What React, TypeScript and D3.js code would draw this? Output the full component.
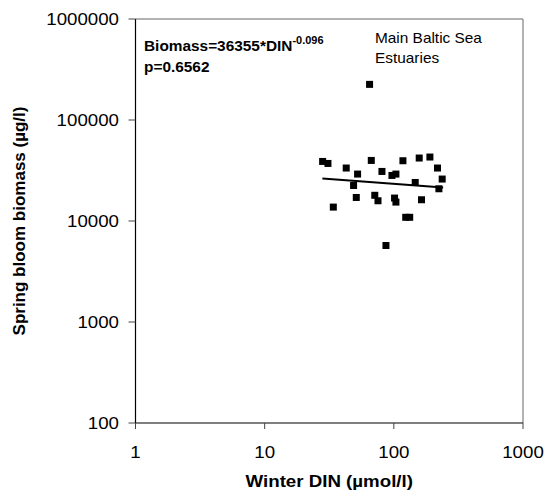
import React from 'react';
import * as d3 from 'd3';

// Winter DIN (µmol/l) vs spring bloom biomass (µg/l)
const dinValues = [
  28.1, 30.9, 42.8, 52.4, 66.9, 80.9, 48.8, 51.2, 71.2, 75.4, 34.0, 117.6, 157.2, 190.2,
  217.8, 236.8, 223.3, 146.4, 96.7, 103.8, 101.3, 103.8, 163.8, 123.6, 132.7, 86.9, 64.9,
];
const biomassValues = [
  38880, 37140, 33450, 29150, 39780, 30950, 22470, 17100, 17970, 15860, 13730, 39500, 42020, 42990,
  33450, 26020, 20850, 24070, 28250, 29150, 16870, 15390, 16230, 10880, 10880, 5720, 225300,
];

const xTicks = [1, 10, 100, 1000];
const yTicks = [100, 1000, 10000, 100000, 1000000];

// power fit Biomass = a * DIN^b, drawn over the data range
const fitA = 36355;
const fitB = -0.096;
const fitRange = [28, 241];

const W = 546;
const H = 495;
const font = "Arial, 'Liberation Sans', sans-serif";
// the original export is a little wider than tall, so horizontal text gets stretched
const stretch = 1.1;

const Label = ({ x, y, anchor = 'start', size = 14, bold = false, children }: any) => (
  <text
    transform={`translate(${x},${y}) scale(${stretch},1)`}
    textAnchor={anchor}
    fontFamily={font}
    fontSize={size}
    fontWeight={bold ? 'bold' : 'normal'}
  >
    {children}
  </text>
);

export default function App() {
  const x = d3.scaleLog().domain([1, 1000]).range([135.5, 523]);
  const y = d3.scaleLog().domain([100, 1000000]).range([423, 19]);

  const points = dinValues.map((d, i) => ({ din: d, bio: biomassValues[i] }));

  const fitLine = d3.line<number>()
    .x(d => x(d))
    .y(d => y(fitA * Math.pow(d, fitB)));

  const [x0, x1] = x.range();
  const [yb, yt] = y.range();
  const size = 7;

  return (
    <svg width={W} height={H} style={{ position: 'absolute', left: 0, top: 0, background: '#fff' }}>
      {/* frame top / right */}
      <line x1={x0} x2={x1} y1={yt} y2={yt} stroke="#999" strokeWidth={1.5} />
      <line x1={x1} x2={x1} y1={yt} y2={yb} stroke="#999" strokeWidth={1.5} />

      {/* axes */}
      <line x1={x0} x2={x0} y1={yt} y2={yb} stroke="#000" strokeWidth={1.2} />
      <line x1={x0} x2={x1} y1={yb} y2={yb} stroke="#000" strokeWidth={1.2} />

      {yTicks.map(t => (
        <g key={'y' + t}>
          <line x1={x0 - 7} x2={x0} y1={y(t)} y2={y(t)} stroke="#444" strokeWidth={1} />
          <Label x={119} y={y(t) + 6} anchor="end" size={17}>{t}</Label>
        </g>
      ))}
      {xTicks.map(t => (
        <g key={'x' + t}>
          <line x1={x(t)} x2={x(t)} y1={yb} y2={yb + 6} stroke="#444" strokeWidth={1} />
          <Label x={x(t)} y={458} anchor="middle" size={17}>{t}</Label>
        </g>
      ))}

      <Label x={(x0 + x1) / 2} y={487} anchor="middle" size={17} bold>
        Winter DIN (µmol/l)
      </Label>
      <text
        transform={`translate(25,${(yt + yb) / 2}) rotate(-90)`}
        textAnchor="middle"
        fontFamily={font}
        fontSize={17}
        fontWeight="bold"
      >
        Spring bloom biomass (µg/l)
      </text>

      {/* fit line */}
      <path d={fitLine(fitRange) || ''} fill="none" stroke="#000" strokeWidth={2} />

      {points.map((p, i) => (
        <rect
          key={i}
          x={x(p.din) - size / 2}
          y={y(p.bio) - size / 2}
          width={size}
          height={size}
          fill="#000"
        />
      ))}

      {/* annotations */}
      <Label x={144} y={51} bold>
        Biomass=36355*DIN
        <tspan dy={-7} fontSize={10}>-0.096</tspan>
      </Label>
      <Label x={144} y={72} bold>p=0.6562</Label>
      <Label x={375} y={43}>Main Baltic Sea</Label>
      <Label x={375} y={63}>Estuaries</Label>
    </svg>
  );
}
